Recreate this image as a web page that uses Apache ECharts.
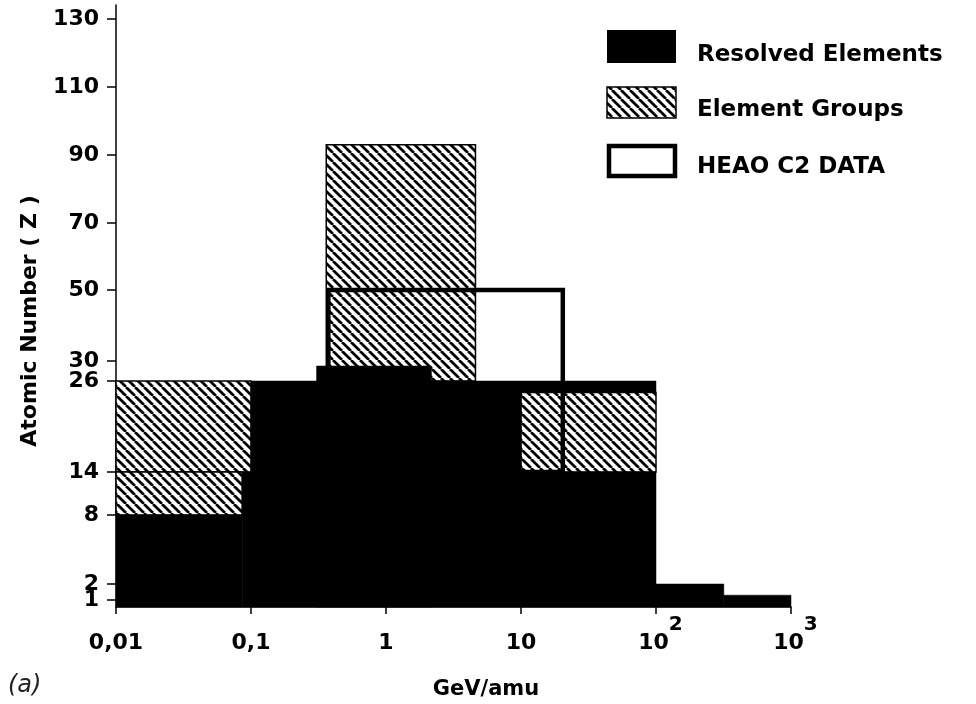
<!DOCTYPE html>
<html>
<head>
<meta charset="utf-8">
<title>Atomic Number vs GeV/amu</title>
<script src="https://cdn.jsdelivr.net/npm/echarts@6/dist/echarts.min.js"></script>
<style>
  html, body { margin: 0; padding: 0; background: #fff; }
  #chart { width: 976px; height: 704px; }
</style>
</head>
<body>
<div id="chart"></div>
<script>
// blocks: [GeV/amu from, GeV/amu to, Z from, Z to]
const resolvedBlocks = [
  [0.01, 0.086, 0.5, 8],
  [0.086, 0.1, 0.5, 14],
  [0.1, 10, 0.5, 26],
  [0.306, 2.17, 0.5, 29],
  [10, 100, 0.5, 14],
  [10, 100, 24.5, 26],
  [100, 318, 0.5, 2],
  [318, 1000, 0.5, 1.3]
]
const groupBlocks = [
  [0.01, 0.1, 14, 26],
  [0.01, 0.086, 8, 14],
  [0.361, 4.6, 26, 93],
  [10, 100, 14, 24.5]
]
const heaoBlocks = [
  [0.374, 20.4, 14, 50]
]

const zTicks = [1, 2, 8, 14, 26, 30, 50, 70, 90, 110, 130]
const xTickBase = ['0,01', '0,1', '1', '10', '10', '10']
const xTickExp = ['', '', '', '', '2', '3']

// the Z axis of the figure is not linear: piecewise scale (Z -> axis units)
const zScaleZ = [0.5, 1, 2, 8, 14, 26, 30, 50, 70, 90, 110, 130, 134]
const zScaleU = [0, 7, 23, 92, 135, 226, 246, 317, 384, 452, 520, 588, 602]

function zToU (z) {
  for (let i = 1; i < zScaleZ.length; i++) {
    if (z <= zScaleZ[i]) {
      const t = (z - zScaleZ[i - 1]) / (zScaleZ[i] - zScaleZ[i - 1])
      return zScaleU[i - 1] + t * (zScaleU[i] - zScaleU[i - 1])
    }
  }
  return zScaleU[zScaleU.length - 1]
}

// hatch pattern "\\\\"
const tile = document.createElement('canvas')
tile.width = 9
tile.height = 9
const tc = tile.getContext('2d')
tc.fillStyle = '#fff'
tc.fillRect(0, 0, 9, 9)
tc.strokeStyle = '#000'
tc.lineWidth = 2.7
for (const k of [-9, 0, 9]) {
  tc.beginPath()
  tc.moveTo(k, 0)
  tc.lineTo(k + 9, 9)
  tc.stroke()
}
const hatch = { image: tile, repeat: 'repeat' }

const font = 'DejaVu Sans'

function blockRenderer (style) {
  return function (params, api) {
    const p0 = api.coord([api.value(0), api.value(2)])
    const p1 = api.coord([api.value(1), api.value(3)])
    return {
      type: 'rect',
      shape: { x: p0[0], y: p1[1], width: p1[0] - p0[0], height: p0[1] - p1[1] },
      style: style
    }
  }
}

function toUnits (blocks) {
  return blocks.map(b => [b[0], b[1], zToU(b[2]), zToU(b[3])])
}

const tickUnits = zTicks.map(zToU)

function zLabel (v) {
  const i = tickUnits.findIndex(u => Math.abs(u - v) < 0.01)
  return i >= 0 ? String(zTicks[i]) : ''
}

// "1" and "2" sit very close, so they go on two overlapping axes (else one gets dropped)
function zAxis (values, showLine) {
  return {
    type: 'value',
    position: 'left',
    min: 0,
    max: 602,
    axisLine: { show: showLine, onZero: false, lineStyle: { color: '#000', width: 1.5 } },
    axisTick: { show: true, length: 9, customValues: values, lineStyle: { color: '#000', width: 1.5 } },
    splitLine: { show: false },
    axisLabel: {
      customValues: values,
      hideOverlap: false,
      margin: 17,
      color: '#000',
      fontFamily: font,
      fontWeight: 'bold',
      fontSize: 22,
      formatter: zLabel
    }
  }
}

const chart = echarts.init(document.getElementById('chart'))
const option = {
  backgroundColor: '#fff',
  animation: false,
  grid: { left: 116, right: 185, top: 5, bottom: 97, outerBoundsMode: 'none' },
  xAxis: {
    type: 'log',
    logBase: 10,
    min: 0.01,
    max: 1000,
    axisLine: { show: true, lineStyle: { color: '#000', width: 1.5 } },
    axisTick: { show: true, length: 7, lineStyle: { color: '#000', width: 1.5 } },
    minorTick: { show: false },
    splitLine: { show: false },
    axisLabel: {
      margin: 8,
      color: '#000',
      fontFamily: font,
      fontWeight: 'bold',
      fontSize: 22,
      hideOverlap: false,
      formatter: function (v) {
        const i = Math.round(Math.log10(v)) + 2
        if (xTickExp[i]) return '{m|' + xTickBase[i] + '}{s|' + xTickExp[i] + '}'
        return '{n|' + xTickBase[i] + '}'
      },
      rich: {
        n: { fontFamily: font, fontWeight: 'bold', fontSize: 22, color: '#000', padding: [17, 0, 0, 0] },
        m: { fontFamily: font, fontWeight: 'bold', fontSize: 22, color: '#000', padding: [17, 0, 0, 9] },
        s: { fontFamily: font, fontWeight: 'bold', fontSize: 20, color: '#000', verticalAlign: 'top' }
      }
    }
  },
  yAxis: [
    zAxis(tickUnits.slice(1), true),
    zAxis(tickUnits.slice(0, 1), false)
  ],
  series: [
    {
      name: 'Element Groups',
      type: 'custom',
      renderItem: blockRenderer({ fill: hatch, stroke: '#000', lineWidth: 1.5 }),
      encode: { x: [0, 1], y: [2, 3] },
      data: toUnits(groupBlocks)
    },
    {
      name: 'Resolved Elements',
      type: 'custom',
      renderItem: blockRenderer({ fill: '#000', stroke: '#000', lineWidth: 0.5 }),
      encode: { x: [0, 1], y: [2, 3] },
      data: toUnits(resolvedBlocks)
    },
    {
      name: 'HEAO C2 DATA',
      type: 'custom',
      renderItem: blockRenderer({ fill: 'transparent', stroke: '#000', lineWidth: 4.5 }),
      encode: { x: [0, 1], y: [2, 3] },
      data: toUnits(heaoBlocks)
    }
  ],
  graphic: [
    // legend
    { type: 'rect', shape: { x: 607, y: 30, width: 69, height: 33 }, style: { fill: '#000' } },
    { type: 'rect', shape: { x: 607, y: 87, width: 69, height: 31 }, style: { fill: hatch, stroke: '#000', lineWidth: 1.5 } },
    { type: 'rect', shape: { x: 609, y: 146, width: 66, height: 30 }, style: { fill: 'transparent', stroke: '#000', lineWidth: 4.5 } },
    { type: 'text', x: 697, y: 55, style: { text: 'Resolved Elements', fontFamily: font, fontWeight: 'bold', fontSize: 23, fill: '#000', verticalAlign: 'middle' } },
    { type: 'text', x: 697, y: 110, style: { text: 'Element Groups', fontFamily: font, fontWeight: 'bold', fontSize: 23, fill: '#000', verticalAlign: 'middle' } },
    { type: 'text', x: 697, y: 167, style: { text: 'HEAO C2 DATA', fontFamily: font, fontWeight: 'bold', fontSize: 23, fill: '#000', verticalAlign: 'middle' } },
    // axis titles
    { type: 'text', x: 30, y: 321, rotation: Math.PI / 2, style: { text: 'Atomic Number ( Z )', fontFamily: font, fontWeight: 'bold', fontSize: 22, fill: '#000', align: 'center', verticalAlign: 'middle' } },
    { type: 'text', x: 486, y: 690, style: { text: 'GeV/amu', fontFamily: font, fontWeight: 'bold', fontSize: 21, fill: '#000', align: 'center', verticalAlign: 'middle' } },
    { type: 'text', x: 8, y: 686, style: { text: '(a)', fontFamily: font, fontStyle: 'italic', fontSize: 24, fill: '#222', verticalAlign: 'middle' } }
  ]
}
chart.setOption(option)
</script>
</body>
</html>
